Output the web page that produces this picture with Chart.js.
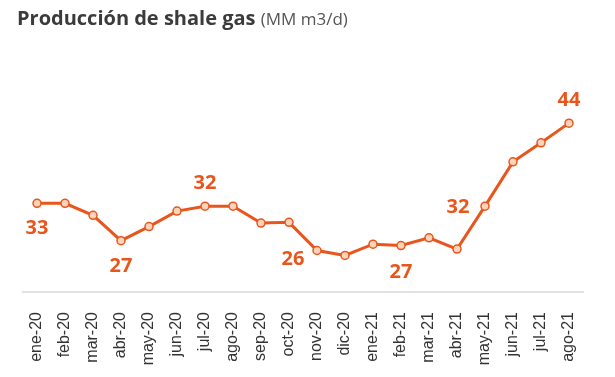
<!DOCTYPE html>
<html>
<head>
<meta charset="utf-8">
<script src="https://cdn.jsdelivr.net/npm/chart.js@4/dist/chart.umd.min.js"></script>
<style>
  html, body { margin: 0; padding: 0; background: #fff; }
  #wrap { position: relative; width: 615px; height: 377px; }
  #title {
    position: absolute; left: 17px; top: 4px;
    font-family: "Open Sans", sans-serif; color: #3b3b3b;
    font-size: 20px; font-weight: 700; white-space: nowrap;
  }
  #title span { font-weight: 400; font-size: 17px; color: #555; }
  canvas { position: absolute; left: 0; top: 0; }
</style>
</head>
<body>
<div id="wrap">
  <canvas id="chart" width="615" height="377"></canvas>
  <div id="title">Producción de shale gas <span>(MM m3/d)</span></div>
</div>
<script>
const months = ["ene-20", "feb-20", "mar-20", "abr-20", "may-20", "jun-20", "jul-20", "ago-20",
  "sep-20", "oct-20", "nov-20", "dic-20", "ene-21", "feb-21", "mar-21", "abr-21",
  "may-21", "jun-21", "jul-21", "ago-21"];
const production = [32.6, 32.6, 30.9, 27.3, 29.3, 31.5, 32.2, 32.2, 29.8, 29.9,
  25.9, 25.2, 26.8, 26.6, 27.7, 26.1, 32.2, 38.5, 41.2, 44.0];

const orange = "#e8561c";

// where the value labels go (index -> offset from the point)
const labelSpots = {
  0: [0, 25], 3: [0, 26], 6: [0, -23], 10: [-24, 9],
  13: [0, 27], 16: [-27, 1], 19: [0, -23]
};

const valueLabels = {
  id: "valueLabels",
  afterDatasetsDraw(chart) {
    const ctx = chart.ctx;
    const meta = chart.getDatasetMeta(0);
    ctx.save();
    ctx.fillStyle = orange;
    ctx.font = "bold 20px 'Open Sans', sans-serif";
    ctx.textAlign = "center";
    ctx.textBaseline = "middle";
    Object.keys(labelSpots).forEach(i => {
      const pt = meta.data[i];
      const [dx, dy] = labelSpots[i];
      ctx.fillText(Math.round(production[i]), pt.x + dx, pt.y + dy);
    });
    ctx.restore();
  }
};

new Chart(document.getElementById("chart"), {
  type: "line",
  data: {
    labels: months,
    datasets: [{
      data: production,
      borderColor: orange,
      borderWidth: 3,
      pointRadius: 4,
      pointBorderWidth: 1.5,
      pointBackgroundColor: "#fbd3ba",
      pointBorderColor: orange,
      tension: 0
    }]
  },
  options: {
    responsive: false,
    animation: false,
    layout: { padding: { top: 95, left: 23, right: 32, bottom: 0 } },
    plugins: { legend: { display: false }, tooltip: { enabled: false } },
    scales: {
      y: { display: false, min: 20, max: 48 },
      x: {
        offset: true,
        grid: { display: false },
        border: { display: true, color: "#e2e2e2", width: 2 },
        ticks: {
          minRotation: 90, maxRotation: 90, padding: 12,
          color: "#333",
          font: { family: "'Liberation Sans', Arial, sans-serif", size: 16 }
        },
        afterFit: (s) => { s.height = 85; }
      }
    }
  },
  plugins: [valueLabels]
});
</script>
</body>
</html>
